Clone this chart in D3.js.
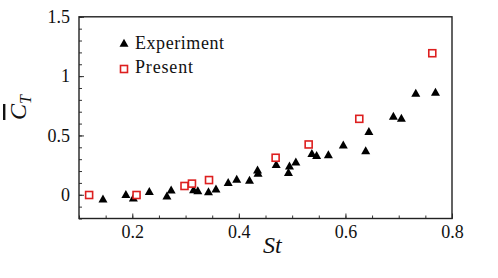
<!DOCTYPE html>
<html lang="en">
<head>
<meta charset="utf-8" />
<title>Mean thrust vs St</title>
<script src="https://cdn.jsdelivr.net/npm/d3@7"></script>
<style>
  body { margin: 0; background: #fff; }
</style>
</head>
<body>
<svg id="chart" width="498" height="278"></svg>
<script>
// experiment (triangles)
var expSt = [0.145, 0.188, 0.202, 0.232, 0.265, 0.273, 0.315, 0.323, 0.343, 0.357,
             0.380, 0.396, 0.420, 0.435, 0.436, 0.470, 0.493, 0.495, 0.507, 0.537,
             0.546, 0.568, 0.596, 0.638, 0.644, 0.690, 0.705, 0.732, 0.769];
var expCt = [-0.032, 0.007, -0.023, 0.032, -0.007, 0.044, 0.046, 0.038, 0.029, 0.052,
             0.107, 0.136, 0.126, 0.214, 0.186, 0.26, 0.191, 0.247, 0.281, 0.352,
             0.336, 0.342, 0.424, 0.376, 0.537, 0.667, 0.650, 0.860, 0.868];
// present (squares)
var preSt = [0.119, 0.208, 0.298, 0.312, 0.344, 0.469, 0.531, 0.626, 0.763];
var preCt = [-0.002, -0.002, 0.074, 0.094, 0.124, 0.312, 0.424, 0.640, 1.193];

var xMajor = [0.2, 0.4, 0.6, 0.8];
var yMajor = [0, 0.5, 1, 1.5];
var legendNames = ["Experiment", "Present"];

var FONT = "Liberation Serif";
var x = d3.scaleLinear().domain([0.1, 0.8]).range([79, 452]);
var y = d3.scaleLinear().domain([-0.2, 1.5]).range([218.5, 16.8]);

var svg = d3.select("#chart");
var red = "#dd1f1f";

// ticks (inward)
var xMinor = d3.range(0.1, 0.8001, 0.05).map(function(v){ return +v.toFixed(2); });
var yMinor = d3.range(-0.2, 1.5001, 0.1).map(function(v){ return +v.toFixed(1); });

var xAxis = d3.axisBottom(x).tickValues(xMinor).tickSize(-3).tickFormat("");
var xAxisMaj = d3.axisBottom(x).tickValues(xMajor).tickSize(-5).tickPadding(7)
    .tickFormat(d3.format(".1f"));
var yAxis = d3.axisLeft(y).tickValues(yMinor).tickSize(-3).tickFormat("");
var yAxisMaj = d3.axisLeft(y).tickValues(yMajor).tickSize(-5).tickPadding(9)
    .tickFormat(function(d){ return d === 0 ? "0" : d === 1 ? "1" : d3.format(".1f")(d); });

function styleAxis(g) {
  g.attr("font-family", FONT).attr("font-size", 18);
  g.select(".domain").remove();
  g.selectAll("line").attr("stroke", "#333").attr("stroke-width", 1);
  g.selectAll("text").attr("fill", "#111");
}

svg.append("g").attr("transform", "translate(0," + y(-0.2) + ")").call(xAxis).call(styleAxis);
svg.append("g").attr("transform", "translate(0," + y(-0.2) + ")").call(xAxisMaj).call(styleAxis);
svg.append("g").attr("transform", "translate(" + x(0.1) + ",0)").call(yAxis).call(styleAxis);
svg.append("g").attr("transform", "translate(" + x(0.1) + ",0)").call(yAxisMaj).call(styleAxis);

// frame
svg.append("rect")
    .attr("x", x(0.1)).attr("y", y(1.5))
    .attr("width", x(0.8) - x(0.1)).attr("height", y(-0.2) - y(1.5))
    .attr("fill", "none").attr("stroke", "#222").attr("stroke-width", 1.4);

function tri(cx, cy) {
  var w = 9, h = 8;
  return "M" + cx + "," + (cy - h / 2) + "L" + (cx + w / 2) + "," + (cy + h / 2) +
         "L" + (cx - w / 2) + "," + (cy + h / 2) + "Z";
}

svg.append("g").selectAll("path").data(expSt).join("path")
    .attr("d", function(d, i){ return tri(x(d), y(expCt[i])); })
    .attr("fill", "#000");

svg.append("g").selectAll("rect").data(preSt).join("rect")
    .attr("x", function(d){ return x(d) - 3.5; })
    .attr("y", function(d, i){ return y(preCt[i]) - 3.5; })
    .attr("width", 7).attr("height", 7)
    .attr("fill", "#fff").attr("stroke", red).attr("stroke-width", 1.6);

// legend
var lg = svg.append("g").attr("font-family", FONT);
lg.append("path").attr("d", tri(124, 42.7)).attr("fill", "#000");
lg.append("rect").attr("x", 120.5).attr("y", 65.5).attr("width", 7).attr("height", 7)
    .attr("fill", "#fff").attr("stroke", red).attr("stroke-width", 1.6);
lg.selectAll("text").data(legendNames).join("text")
    .attr("x", 135).attr("y", function(d, i){ return 48.5 + i * 24; })
    .attr("font-size", 18).attr("fill", "#111")
    .attr("textLength", function(d, i){ return i === 0 ? 89 : 58; })
    .text(function(d){ return d; });

// axis titles
svg.append("text").attr("x", 263).attr("y", 252.5)
    .attr("font-family", FONT).attr("fill", "#111")
    .attr("font-size", 24).attr("font-style", "italic").text("St");

var yl = svg.append("text")
    .attr("transform", "translate(26,120) rotate(-90)")
    .attr("font-family", FONT).attr("fill", "#111")
    .attr("font-size", 24).attr("font-style", "italic");
yl.append("tspan").text("C").attr("text-decoration", "overline");
yl.append("tspan").text("T").attr("font-size", 16).attr("dy", 5);
</script>
</body>
</html>
